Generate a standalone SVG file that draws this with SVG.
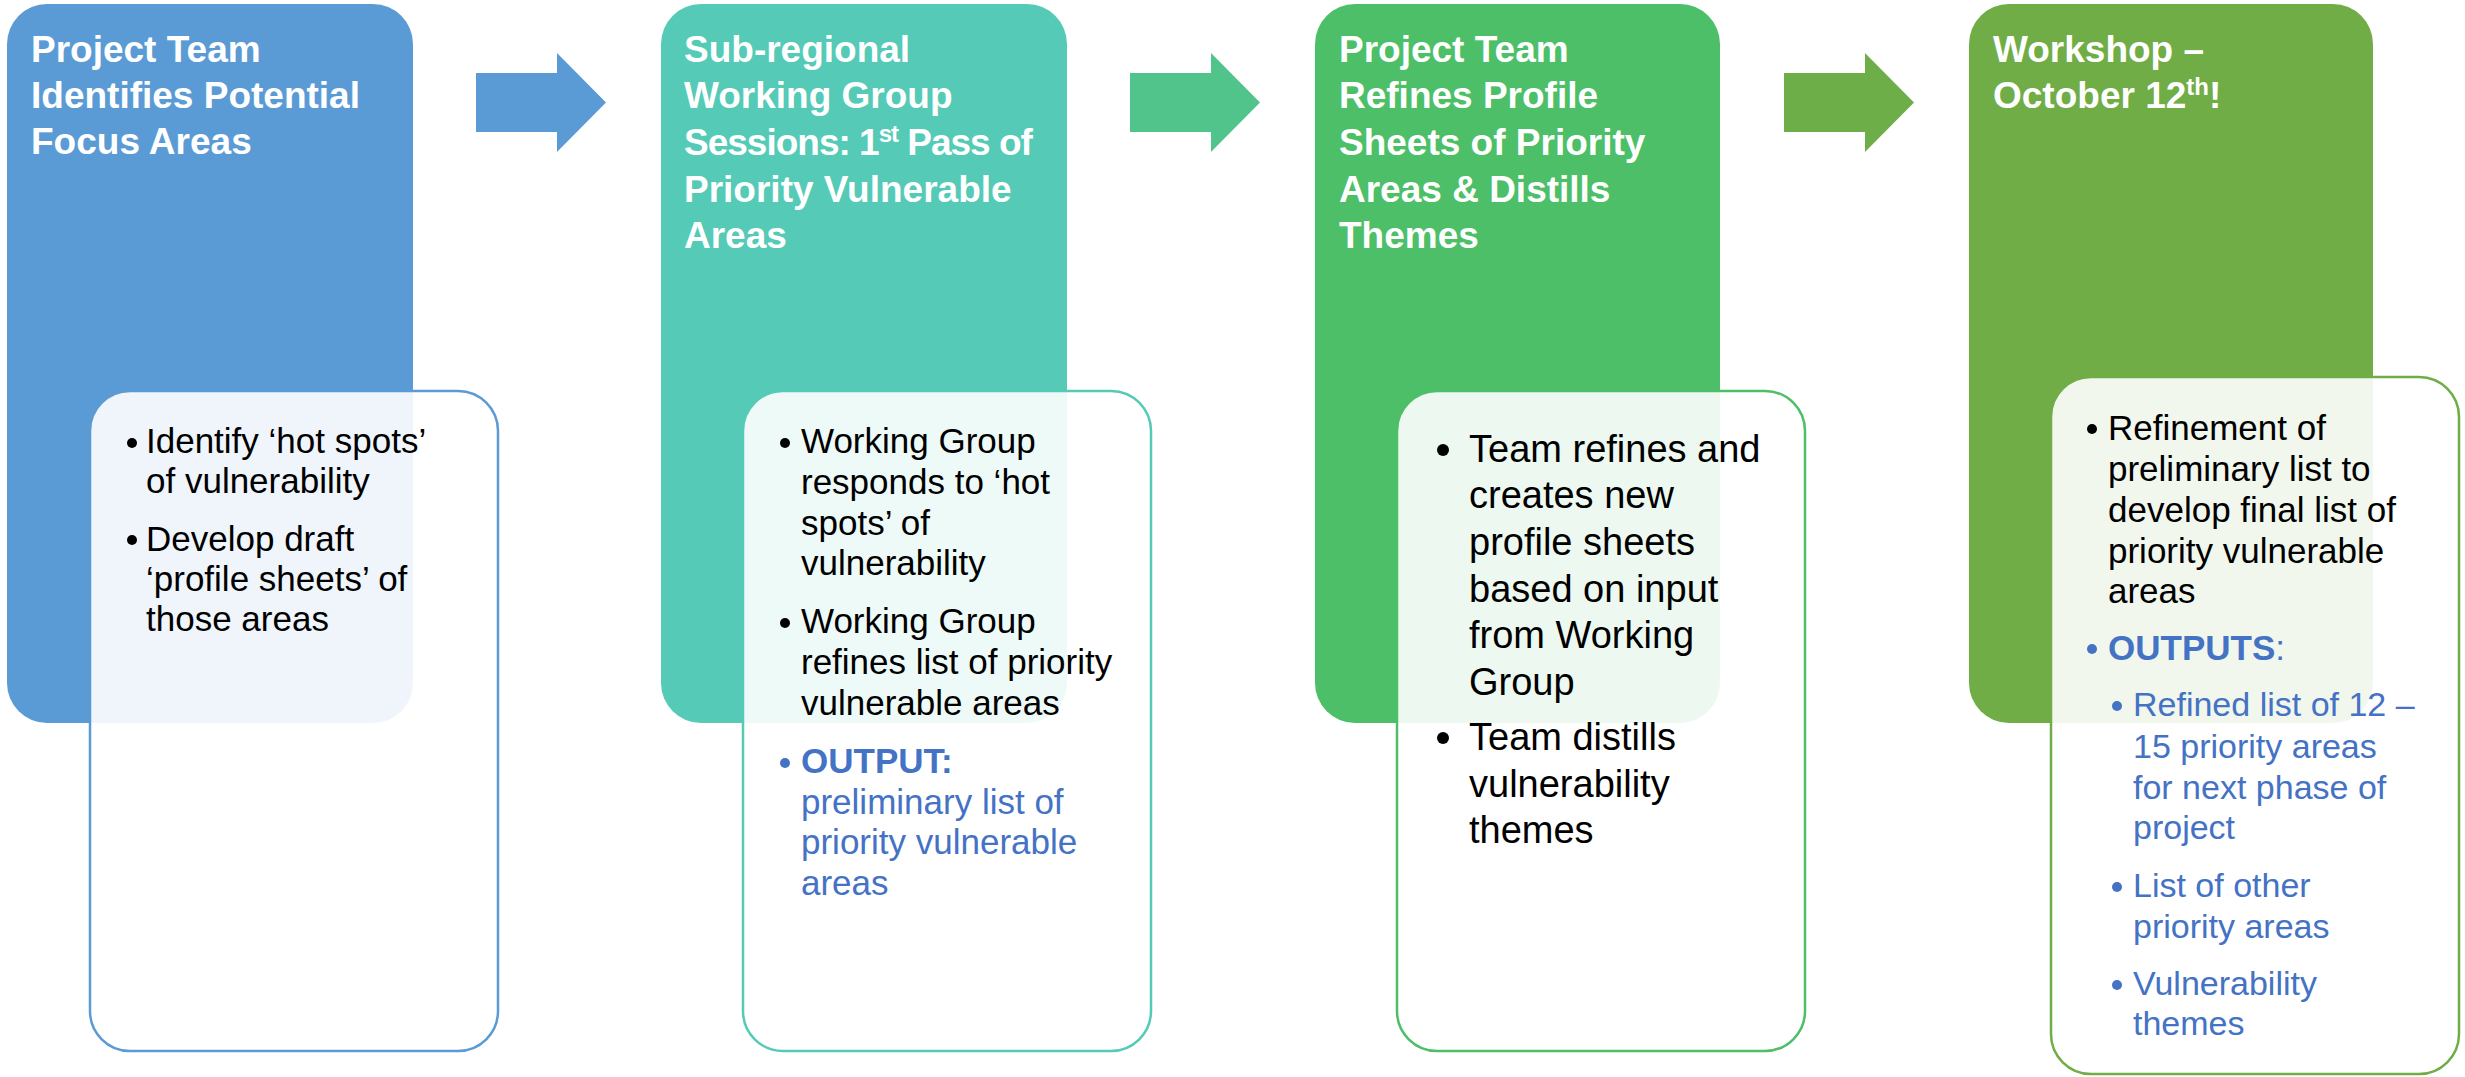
<svg xmlns="http://www.w3.org/2000/svg" width="2465" height="1077" viewBox="0 0 2465 1077">
<style>
.title{font-family:"Liberation Sans",Arial,sans-serif;font-weight:bold;font-size:37px;fill:#FFFFFF}
.body{font-family:"Liberation Sans",Arial,sans-serif;font-size:35px;fill:#000000}
.big{font-size:38px}
.sub{font-size:34px}
.blue{fill:#4472C4}
.b{font-weight:bold}
.tight{letter-spacing:-1px}
.card{fill:#FFFFFF;fill-opacity:0.9;stroke-width:2.5}
</style>
<rect width="2465" height="1077" fill="#FFFFFF"/>

<g id="connectors">
  <polygon points="476,73 557,73 557,53 606,102.5 557,152 557,132 476,132" fill="#5B9BD5"/>
  <polygon points="1130,73 1211,73 1211,53 1260,102.5 1211,152 1211,132 1130,132" fill="#50C48B"/>
  <polygon points="1784,73 1865,73 1865,53 1914,102.5 1865,152 1865,132 1784,132" fill="#6EAE48"/>
</g>

<g id="node1">
  <rect x="7" y="4" width="406" height="719" rx="40" fill="#5B9BD5"/>
  <text class="title" x="31"><tspan x="31" y="62">Project Team</tspan><tspan x="31" y="108">Identifies Potential</tspan><tspan x="31" y="154">Focus Areas</tspan></text>
  <rect class="card" x="90" y="391" width="408" height="660" rx="40" stroke="#5B9BD5"/>
  <circle cx="132" cy="443" r="5"/>
  <circle cx="132" cy="540" r="5"/>
  <text class="body"><tspan x="146" y="453">Identify ‘hot spots’</tspan><tspan x="146" y="493">of vulnerability</tspan><tspan x="146" y="551">Develop draft</tspan><tspan x="146" y="591">‘profile sheets’ of</tspan><tspan x="146" y="631">those areas</tspan></text>
</g>

<g id="node2">
  <rect x="661" y="4" width="406" height="719" rx="40" fill="#54CAB7"/>
  <text class="title"><tspan x="684" y="62">Sub-regional</tspan><tspan x="684" y="108">Working Group</tspan><tspan class="tight" x="684" y="155">Sessions: 1</tspan><tspan class="tight" dy="-13" font-size="24">st</tspan><tspan class="tight" dy="13"> Pass of</tspan><tspan x="684" y="202">Priority Vulnerable</tspan><tspan x="684" y="248">Areas</tspan></text>
  <rect class="card" x="743" y="391" width="408" height="660" rx="40" stroke="#54CAB7"/>
  <circle cx="785" cy="443" r="5"/>
  <circle cx="785" cy="623" r="5"/>
  <circle cx="785" cy="763" r="5" fill="#4472C4"/>
  <text class="body"><tspan x="801" y="453">Working Group</tspan><tspan x="801" y="494">responds to ‘hot</tspan><tspan x="801" y="535">spots’ of</tspan><tspan x="801" y="575">vulnerability</tspan><tspan x="801" y="633">Working Group</tspan><tspan x="801" y="674">refines list of priority</tspan><tspan x="801" y="715">vulnerable areas</tspan></text>
  <text class="body blue"><tspan class="b" x="801" y="773">OUTPUT:</tspan><tspan x="801" y="814">preliminary list of</tspan><tspan x="801" y="854">priority vulnerable</tspan><tspan x="801" y="895">areas</tspan></text>
</g>

<g id="node3">
  <rect x="1315" y="4" width="405" height="719" rx="40" fill="#4CBF68"/>
  <text class="title"><tspan x="1339" y="62">Project Team</tspan><tspan x="1339" y="108">Refines Profile</tspan><tspan x="1339" y="155">Sheets of Priority</tspan><tspan x="1339" y="202">Areas &amp; Distills</tspan><tspan x="1339" y="248">Themes</tspan></text>
  <rect class="card" x="1397" y="391" width="408" height="660" rx="40" stroke="#4CBF68"/>
  <circle cx="1443" cy="450" r="6"/>
  <circle cx="1443" cy="738" r="6"/>
  <text class="body big"><tspan x="1469" y="462">Team refines and</tspan><tspan x="1469" y="508">creates new</tspan><tspan x="1469" y="555">profile sheets</tspan><tspan x="1469" y="602">based on input</tspan><tspan x="1469" y="648">from Working</tspan><tspan x="1469" y="695">Group</tspan><tspan x="1469" y="750">Team distills</tspan><tspan x="1469" y="797">vulnerability</tspan><tspan x="1469" y="843">themes</tspan></text>
</g>

<g id="node4">
  <rect x="1969" y="4" width="404" height="719" rx="40" fill="#70AD47"/>
  <text class="title"><tspan x="1993" y="62">Workshop –</tspan><tspan x="1993" y="108">October 12</tspan><tspan dy="-13" font-size="24">th</tspan><tspan dy="13">!</tspan></text>
  <rect class="card" x="2051" y="377" width="408" height="697" rx="40" stroke="#70AD47"/>
  <circle cx="2092" cy="429" r="5"/>
  <circle cx="2092" cy="649" r="5" fill="#4472C4"/>
  <circle cx="2117" cy="706" r="5" fill="#4472C4"/>
  <circle cx="2117" cy="887" r="5" fill="#4472C4"/>
  <circle cx="2117" cy="985" r="5" fill="#4472C4"/>
  <text class="body"><tspan x="2108" y="440">Refinement of</tspan><tspan x="2108" y="481">preliminary list to</tspan><tspan x="2108" y="522">develop final list of</tspan><tspan x="2108" y="563">priority vulnerable</tspan><tspan x="2108" y="603">areas</tspan></text>
  <text class="body blue"><tspan class="b" x="2108" y="660">OUTPUTS</tspan><tspan>:</tspan></text>
  <text class="body sub blue"><tspan x="2133" y="716">Refined list of 12 –</tspan><tspan x="2133" y="758">15 priority areas</tspan><tspan x="2133" y="799">for next phase of</tspan><tspan x="2133" y="839">project</tspan><tspan x="2133" y="897">List of other</tspan><tspan x="2133" y="938">priority areas</tspan><tspan x="2133" y="995">Vulnerability</tspan><tspan x="2133" y="1035">themes</tspan></text>
</g>
</svg>
